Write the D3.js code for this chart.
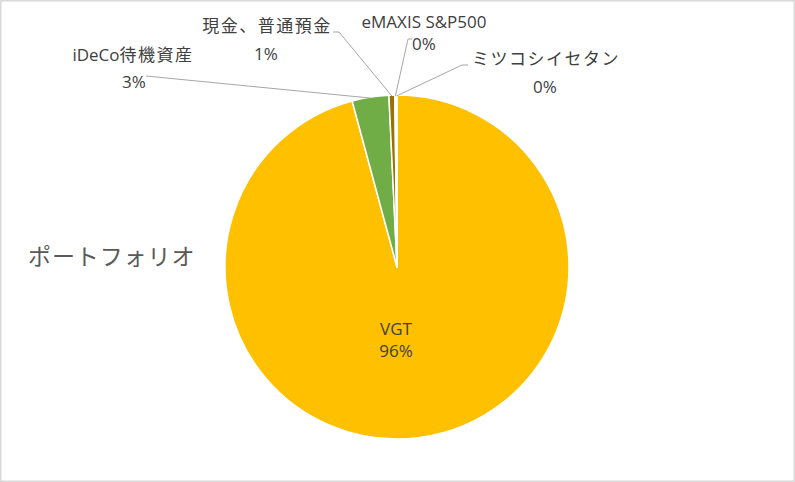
<!DOCTYPE html>
<html>
<head>
<meta charset="utf-8">
<script src="https://cdn.jsdelivr.net/npm/d3@7"></script>
<style>
  html, body { margin: 0; padding: 0; background: #fff; }
  svg { display: block; }
  text { font-family: "Open Sans", "Noto Sans CJK JP", sans-serif; }
</style>
</head>
<body>
<svg id="chart" width="795" height="482"></svg>
<script>
// ---- data ----
const categories = ["VGT", "iDeCo待機資産", "現金、普通預金", "eMAXIS S&P500", "ミツコシイセタン"];
const values = [95.8, 3.45, 0.55, 0.1, 0.1];
const colors = ["#FFC000", "#70AD47", "#997300", "#264478", "#9E480E"];
const title = "ポートフォリオ";

// ---- layout (label anchor positions, not data) ----
const W = 795, H = 482;
const cx = 397, cy = 267, R = 172;
const labelLayout = [
  { nx: 396, ny: 335, px: 396, py: 357 },
  { nx: 133, ny: 61, px: 134, py: 88, line: [[146, 76]] },
  { nx: 267, ny: 32, px: 266, py: 60, line: [[333, 32], [339, 32]] },
  { nx: 424, ny: 28, px: 424, py: 50, line: [[412, 39], [408, 39]] },
  { nx: 546, ny: 65, px: 545, py: 93, line: [[468, 65], [462, 65]] }
];

const svg = d3.select("#chart");

svg.append("rect")
  .attr("x", 0.75).attr("y", 0.75)
  .attr("width", W - 1.5).attr("height", H - 1.5)
  .attr("fill", "#fff").attr("stroke", "#d9d9d9").attr("stroke-width", 1.5);

const data = categories.map((c, i) => ({ name: c, value: values[i], color: colors[i], i }));
const total = d3.sum(values);

const pie = d3.pie().value(d => d.value).sort(null)
  .startAngle(0).endAngle(2 * Math.PI);
const arcs = pie(data);

const arc = d3.arc().innerRadius(0).outerRadius(R);
const edgeArc = d3.arc().innerRadius(R - 1).outerRadius(R - 1);

const g = svg.append("g").attr("transform", `translate(${cx},${cy})`);

g.selectAll("path.slice")
  .data(arcs)
  .join("path")
  .attr("class", "slice")
  .attr("d", arc)
  .attr("fill", d => d.data.color)
  .attr("stroke", "#fff")
  .attr("stroke-width", 1.5)
  .attr("stroke-linejoin", "round");

const line = d3.line();
arcs.forEach((a, i) => {
  const L = labelLayout[i];
  if (!L.line) return;
  const e = edgeArc.centroid(a);
  const pts = L.line.concat([[e[0] + cx, e[1] + cy]]);
  svg.append("path")
    .attr("d", line(pts))
    .attr("fill", "none")
    .attr("stroke", "#a6a6a6")
    .attr("stroke-width", 1);
});

// split text into CJK / non-CJK runs so CJK glyphs get the wider spacing seen in the reference
function addRuns(textSel, str, cjkSpacing) {
  const re = /([\u3000-\u30ff\u4e00-\u9fff]+)|([^\u3000-\u30ff\u4e00-\u9fff]+)/g;
  let m;
  while ((m = re.exec(str)) !== null) {
    const t = textSel.append("tspan").text(m[0]);
    if (m[1]) t.attr("letter-spacing", cjkSpacing);
  }
}

arcs.forEach((a, i) => {
  const L = labelLayout[i];
  const pct = Math.round(a.data.value / total * 100) + "%";
  const t = svg.append("text")
    .attr("x", L.nx).attr("y", L.ny)
    .attr("text-anchor", "middle")
    .attr("font-size", 17)
    .attr("fill", "#404040");
  addRuns(t, a.data.name, 1.5);
  svg.append("text")
    .attr("x", L.px).attr("y", L.py)
    .attr("text-anchor", "middle")
    .attr("font-size", 17)
    .attr("fill", "#404040")
    .text(pct);
});

svg.append("text")
  .attr("x", 28).attr("y", 265)
  .attr("font-size", 23)
  .attr("fill", "#595959")
  .attr("letter-spacing", 0.9)
  .text(title);
</script>
</body>
</html>
